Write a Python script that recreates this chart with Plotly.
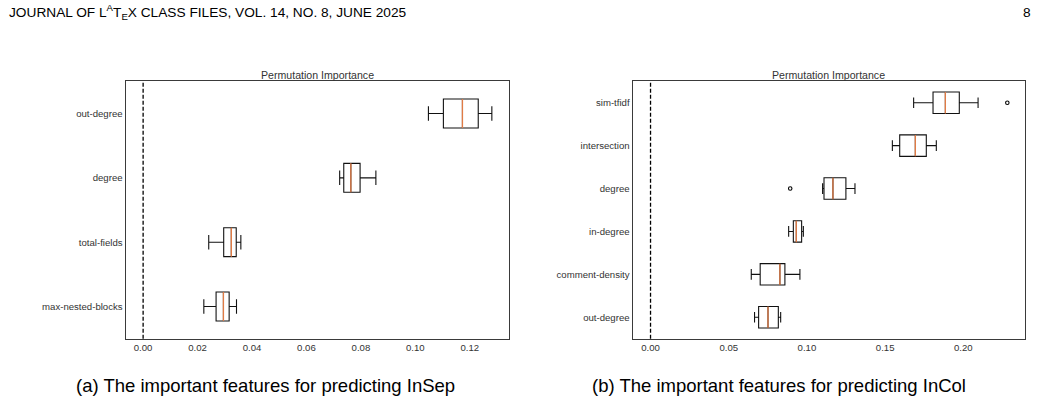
import plotly.graph_objects as go

# ---------------- data ----------------
# (a) InSep  (top -> bottom)
feat_a = ["out-degree", "degree", "total-fields", "max-nested-blocks"]
lo_a = [0.1048, 0.0722, 0.0241, 0.0223]
q1_a = [0.1103, 0.0737, 0.0296, 0.0268]
med_a = [0.1173, 0.0763, 0.0324, 0.0295]
q3_a = [0.1231, 0.0797, 0.0342, 0.0316]
hi_a = [0.1281, 0.0855, 0.0359, 0.0343]
out_a_feat = []
out_a_val = []

# (b) InCol  (top -> bottom)
feat_b = ["sim-tfidf", "intersection", "degree", "in-degree", "comment-density", "out-degree"]
lo_b = [0.1682, 0.1546, 0.1100, 0.0883, 0.0644, 0.0665]
q1_b = [0.1806, 0.1593, 0.1109, 0.0913, 0.0701, 0.0691]
med_b = [0.1885, 0.1693, 0.1166, 0.0932, 0.0827, 0.0751]
q3_b = [0.1974, 0.1763, 0.1249, 0.0966, 0.0859, 0.0817]
hi_b = [0.2094, 0.1827, 0.1307, 0.0977, 0.0955, 0.0832]
out_b_feat = ["sim-tfidf", "degree"]
out_b_val = [0.2281, 0.0893]

title_text = "Permutation Importance"
header_text = "JOURNAL OF L<sup>A</sup>T<sub>E</sub>X CLASS FILES, VOL. 14, NO. 8, JUNE 2025"
page_no = "8"
cap_a = "(a) The important features for predicting InSep"
cap_b = "(b) The important features for predicting InCol"

# ---------------- style ----------------
W, H = 1045, 402
FONT = "Liberation Sans, Arial, sans-serif"
TXT = "#333333"
MED = "#e07b45"
tick_size = 9.6


def px_x(p):
    return p / W


def px_y(p):
    return 1 - p / H


fig = go.Figure()


def add_panel(feats, lo, q1, med, q3, hi, of, ov, xa, ya, width):
    n = len(feats)
    pos = [n - i for i in range(n)]
    fig.add_trace(go.Box(
        y=pos, q1=q1, median=med, q3=q3, lowerfence=lo, upperfence=hi,
        orientation="h", width=width, whiskerwidth=0.5, boxpoints=False,
        line=dict(color="#111111", width=1.1), fillcolor="rgba(0,0,0,0)",
        xaxis=xa, yaxis=ya, showlegend=False, hoverinfo="skip"))
    fig.add_trace(go.Box(
        y=pos, q1=med, median=med, q3=med, lowerfence=med, upperfence=med,
        orientation="h", width=width, whiskerwidth=0, boxpoints=False,
        line=dict(color=MED, width=1.3), fillcolor="rgba(0,0,0,0)",
        xaxis=xa, yaxis=ya, showlegend=False, hoverinfo="skip"))
    if of:
        fig.add_trace(go.Scatter(
            x=ov, y=[pos[feats.index(f)] for f in of], mode="markers",
            marker=dict(symbol="circle-open", size=3.5, color="black",
                        line=dict(width=1.1, color="black")),
            xaxis=xa, yaxis=ya, showlegend=False, hoverinfo="skip"))
    return pos


pos_a = add_panel(feat_a, lo_a, q1_a, med_a, q3_a, hi_a, out_a_feat, out_a_val, "x", "y", 0.45)
pos_b = add_panel(feat_b, lo_b, q1_b, med_b, q3_b, hi_b, out_b_feat, out_b_val, "x2", "y2", 0.5)

frame = dict(showline=True, mirror=True, linecolor="#3a3a3a", linewidth=1.4,
             showgrid=False, zeroline=False, ticks="",
             tickfont=dict(family=FONT, size=tick_size, color=TXT))

ydom = [px_y(338.7), px_y(81.3)]
fig.update_layout(
    width=W, height=H, margin=dict(l=0, r=0, t=0, b=0),
    paper_bgcolor="white", plot_bgcolor="white", boxmode="overlay",
    xaxis=dict(domain=[px_x(125.7), px_x(509)], range=[-0.0064, 0.1344],
               tickvals=[0, 0.02, 0.04, 0.06, 0.08, 0.10, 0.12], tickformat=".2f",
               anchor="y", **frame),
    yaxis=dict(domain=ydom, range=[0.5, len(feat_a) + 0.5],
               tickvals=pos_a, ticktext=feat_a, anchor="x", **frame),
    xaxis2=dict(domain=[px_x(632.7), px_x(1025)], range=[-0.0114, 0.2394],
                tickvals=[0, 0.05, 0.10, 0.15, 0.20], tickformat=".2f",
                anchor="y2", **frame),
    yaxis2=dict(domain=ydom, range=[0.5, len(feat_b) + 0.5],
                tickvals=pos_b, ticktext=feat_b, anchor="x2", **frame),
)

for xr, yr in (("x", "y domain"), ("x2", "y2 domain")):
    fig.add_shape(type="line", xref=xr, yref=yr, x0=0, x1=0, y0=0, y1=1,
                  line=dict(color="black", width=1.3, dash="4px,2px"))

ann = []
for dom in ([125.7, 509], [632.7, 1025]):
    ann.append(dict(text=title_text, x=px_x((dom[0] + dom[1]) / 2), y=px_y(74.7),
                    xref="paper", yref="paper", xanchor="center", yanchor="middle",
                    showarrow=False, font=dict(family=FONT, size=10.6, color=TXT)))
ann.append(dict(text=header_text, x=px_x(7), y=px_y(12.5), xref="paper", yref="paper",
                xanchor="left", yanchor="middle", showarrow=False,
                font=dict(family=FONT, size=13.7, color="black")))
ann.append(dict(text=page_no, x=px_x(1033), y=px_y(12.5), xref="paper", yref="paper",
                xanchor="right", yanchor="middle", showarrow=False,
                font=dict(family=FONT, size=13.7, color="black")))
ann.append(dict(text=cap_a, x=px_x(74), y=px_y(385), xref="paper", yref="paper",
                xanchor="left", yanchor="middle", showarrow=False,
                font=dict(family=FONT, size=18.5, color="black")))
ann.append(dict(text=cap_b, x=px_x(590), y=px_y(385), xref="paper", yref="paper",
                xanchor="left", yanchor="middle", showarrow=False,
                font=dict(family=FONT, size=18.5, color="black")))
fig.update_layout(annotations=ann)

fig.write_html("out.html")
